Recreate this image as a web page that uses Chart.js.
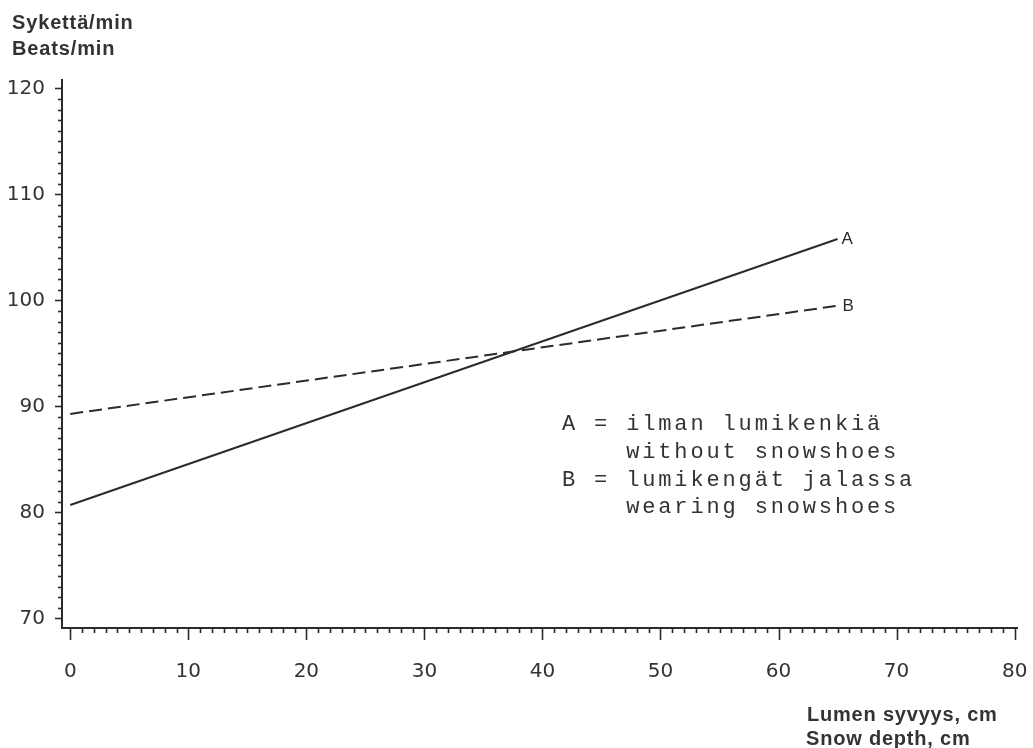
<!DOCTYPE html>
<html>
<head>
<meta charset="utf-8">
<script src="https://cdn.jsdelivr.net/npm/chart.js@4.4.1/dist/chart.umd.min.js"></script>
<style>
  html, body { margin: 0; padding: 0; background: #ffffff; }
  #wrap { width: 1033px; height: 748px; position: relative; }
</style>
</head>
<body>
<div id="wrap"><canvas id="c" width="1033" height="748"></canvas></div>
<script>
// ---- data ----
const depthCm = [0, 65];                 // snow depth, cm
const seriesA = [80.7, 105.8];           // A = ilman lumikenkiä / without snowshoes
const seriesB = [89.3, 99.5];            // B = lumikengät jalassa / wearing snowshoes
const seriesNames = ['A', 'B'];
const xTickLabels = [0, 10, 20, 30, 40, 50, 60, 70, 80];
const yTickLabels = [70, 80, 90, 100, 110, 120];
const yTitleLines = ['Sykettä/min', 'Beats/min'];
const xTitleLines = ['Lumen syvyys, cm', 'Snow depth, cm'];
const legendLines = ['A = ilman lumikenkiä', '    without snowshoes', 'B = lumikengät jalassa', '    wearing snowshoes'];

const INK = '#2b2b2b';

const toPoints = (xs, ys) => xs.map((x, i) => ({ x: x, y: ys[i] }));

const extras = {
  id: 'extras',
  afterDraw(chart) {
    const ctx = chart.ctx;
    const xs = chart.scales.x, ys = chart.scales.y;
    const area = chart.chartArea;
    ctx.save();
    ctx.strokeStyle = INK;
    ctx.lineWidth = 1.6;
    // x-axis ticks (down), minor every 1, major every 10
    for (let v = 0; v <= 80; v++) {
      const px = Math.round(xs.getPixelForValue(v)) + 0.5;
      const len = (v % 10 === 0) ? 12 : 5;
      ctx.beginPath();
      ctx.moveTo(px, area.bottom);
      ctx.lineTo(px, area.bottom + len);
      ctx.stroke();
    }
    // y-axis ticks (left)
    for (let v = 70; v <= 120; v++) {
      const py = Math.round(ys.getPixelForValue(v)) + 0.5;
      const len = (v % 10 === 0) ? 7 : 4;
      ctx.beginPath();
      ctx.moveTo(area.left, py);
      ctx.lineTo(area.left - len, py);
      ctx.stroke();
    }
    // series end labels
    ctx.fillStyle = INK;
    ctx.font = '17px "Liberation Sans", Arial, sans-serif';
    ctx.textBaseline = 'middle';
    ctx.textAlign = 'left';
    const last = depthCm.length - 1;
    ctx.fillText(seriesNames[0], xs.getPixelForValue(depthCm[last]) + 4, ys.getPixelForValue(seriesA[last]));
    ctx.fillText(seriesNames[1], xs.getPixelForValue(depthCm[last]) + 5, ys.getPixelForValue(seriesB[last]) + 1);

    // axis titles
    ctx.font = 'bold 20px "Liberation Sans", Arial, sans-serif';
    ctx.fillStyle = '#333';
    ctx.textBaseline = 'alphabetic';
    if ('letterSpacing' in ctx) ctx.letterSpacing = '0.85px';
    ctx.fillText(yTitleLines[0], 12, 29);
    ctx.fillText(yTitleLines[1], 12, 55);
    ctx.font = 'bold 20px "Liberation Sans", Arial, sans-serif';
    if ('letterSpacing' in ctx) ctx.letterSpacing = '0.8px';
    ctx.fillText(xTitleLines[0], 807, 721);
    ctx.fillText(xTitleLines[1], 806, 745);

    // legend text block
    ctx.font = '22px "Liberation Mono", "DejaVu Sans Mono", monospace';
    if ('letterSpacing' in ctx) ctx.letterSpacing = '2.85px';
    ctx.fillStyle = '#333';
    const baselines = [430, 458, 486, 513];
    legendLines.forEach((t, i) => ctx.fillText(t, 562, baselines[i]));
    ctx.restore();
  }
};

new Chart(document.getElementById('c'), {
  type: 'scatter',
  data: {
    datasets: [
      {
        label: seriesNames[0],
        data: toPoints(depthCm, seriesA),
        showLine: true,
        borderColor: INK,
        borderWidth: 2,
        pointRadius: 0,
        fill: false
      },
      {
        label: seriesNames[1],
        data: toPoints(depthCm, seriesB),
        showLine: true,
        borderColor: INK,
        borderWidth: 2,
        borderDash: [13, 6],
        pointRadius: 0,
        fill: false
      }
    ]
  },
  options: {
    responsive: false,
    animation: false,
    events: [],
    layout: { padding: { top: 80, right: 16, left: 0, bottom: 0 } },
    plugins: { legend: { display: false }, tooltip: { enabled: false }, title: { display: false } },
    scales: {
      x: {
        type: 'linear',
        min: -0.7,
        max: 80.2,
        afterBuildTicks: (s) => { s.ticks = xTickLabels.map(v => ({ value: v })); },
        afterFit: (s) => { s.height = 120; s.paddingLeft = 0; s.paddingRight = 0; },
        grid: { display: false, drawTicks: false, tickLength: 0 },
        border: { display: true, color: INK, width: 2 },
        ticks: {
          autoSkip: false,
          maxRotation: 0,
          padding: 32,
          color: '#333',
          font: { family: '"DejaVu Sans", sans-serif', size: 20 }
        }
      },
      y: {
        type: 'linear',
        min: 69.1,
        max: 120.8,
        afterBuildTicks: (s) => { s.ticks = yTickLabels.map(v => ({ value: v })); },
        afterFit: (s) => { s.width = 62; s.paddingTop = 0; s.paddingBottom = 0; },
        grid: { display: false, drawTicks: false, tickLength: 0 },
        border: { display: true, color: INK, width: 2 },
        ticks: {
          autoSkip: false,
          padding: 17,
          color: '#333',
          font: { family: '"DejaVu Sans", sans-serif', size: 20 }
        }
      }
    }
  },
  plugins: [extras]
});
</script>
</body>
</html>
